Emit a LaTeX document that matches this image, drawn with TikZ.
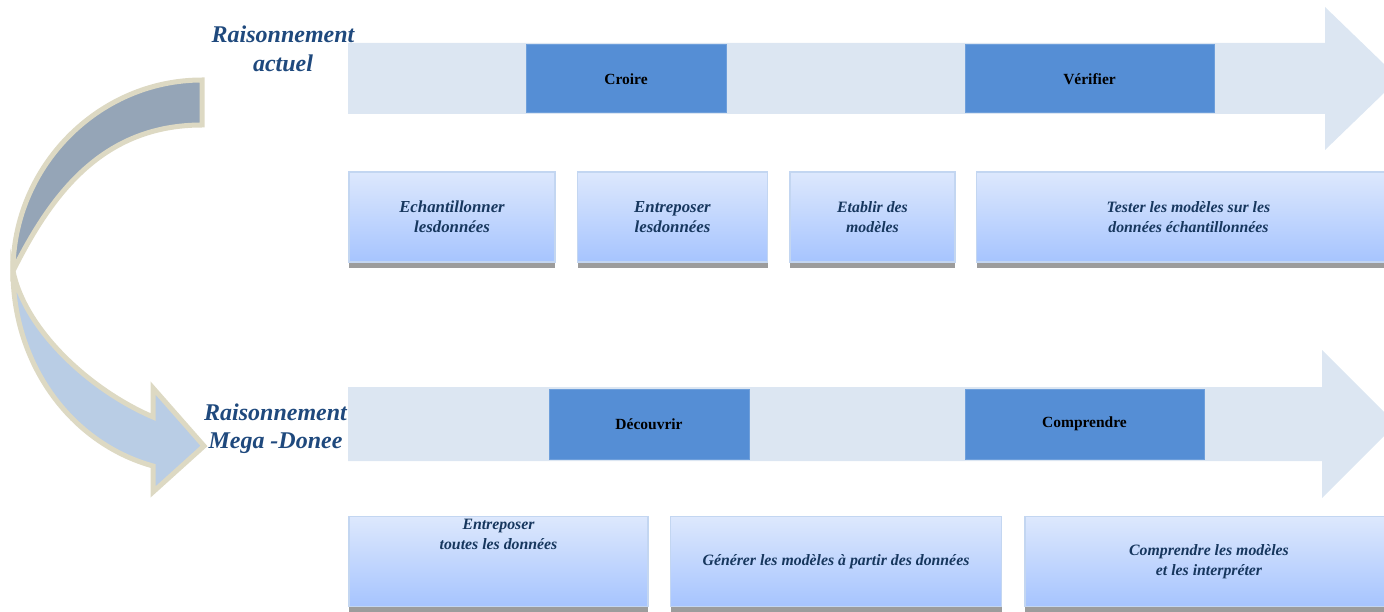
\documentclass[tikz,border=0pt]{standalone}
\usepackage{fontspec}
\setmainfont{Liberation Serif}
\usetikzlibrary{positioning, shadows}
\definecolor{shaftblue}{HTML}{DCE6F2}
\definecolor{phaseblue}{HTML}{558ED5}
\definecolor{titleblue}{HTML}{1F497D}
\definecolor{tasktext}{HTML}{17375E}
\definecolor{tasktop}{HTML}{DDE8FD}
\definecolor{taskbottom}{HTML}{A6C4FE}
\definecolor{taskrim}{HTML}{C3D6F1}
\definecolor{shadowgray}{HTML}{9C9C9C}
\definecolor{backband}{HTML}{95A5B7}
\definecolor{frontband}{HTML}{B9CDE5}
\definecolor{rimbeige}{HTML}{DDD9C3}
\tikzset{
        every node/.style={inner sep=0pt},
        timeline/.style={fill=shaftblue}, % the two long arrows
        phase/.style={fill=phaseblue, draw=phaseblue!85!white, line width=1pt,
                minimum height=68pt, font=\fontsize{15.5}{18}\selectfont\bfseries},
        task/.style={draw=taskrim, line width=1.5pt, top color=tasktop, bottom color=taskbottom,
                minimum height=90pt, align=center, text=tasktext,
                font=\fontsize{15.8}{19.5}\selectfont\bfseries\itshape,
                general shadow={fill=shadowgray, shadow xshift=0pt, shadow yshift=-6pt}},
        bigtask/.style={task, font=\fontsize{16.8}{19.5}\selectfont\bfseries\itshape},
        title/.style={text=titleblue, align=center, font=\fontsize{24}{28.4}\selectfont\bfseries\itshape},
        rim/.style={draw=rimbeige, line width=5pt, line join=miter},
}
\def\backpart{(202,80) .. controls (98,80) and (13,167) .. (13,271)
        .. controls (51,195) and (102,125) .. (202,125) -- cycle}
\def\frontpart{(13,271) .. controls (13,363) and (70,443) .. (153,466) -- (153,492)
        -- (204,446) -- (153,388) -- (153,417) .. controls (90,390) and (25,330) .. (13,271) -- cycle}

\begin{document}
\begin{tikzpicture}[x=1pt, y=-1pt]
    \useasboundingbox (0,0) rectangle (1384,612);
    \clip (0,0) rectangle (1384,612);
    % long arrows
    \fill[timeline] (348,43) -- (1325,43) -- (1325,7) -- (1399,78.5) -- (1325,150) -- (1325,114) -- (348,114) -- cycle;
    \fill[timeline] (348,387) -- (1322,387) -- (1322,350) -- (1396,424) -- (1322,498) -- (1322,461) -- (348,461) -- cycle;
    % curved arrow
    \filldraw[rim, fill=frontband] \frontpart;
    \filldraw[rim, fill=backband] \backpart;

    \node[title] (actuel) at (283,49) {Raisonnement\\actuel};
    \node[title] (megadonee) at (275.5,428.5) {Raisonnement\\Mega -Donee};

    \node[phase, minimum width=200pt] (croire) at (626,79) {Croire};
    \node[phase, minimum width=249pt] (verifier) at (1089.5,79) {Vérifier};
    \node[phase, minimum width=200pt, minimum height=70pt] (decouvrir) at (649,424) {Découvrir};
    \node[phase, minimum width=239pt, minimum height=70pt] (comprendre) at (1084.5,424) {Comprendre};

    \node[bigtask, minimum width=206pt] (echant) at (452,217) {Echantillonner\\lesdonnées};
    \node[bigtask, minimum width=190pt, right=21pt of echant] (entrepose) {Entreposer\\lesdonnées};
    \node[task, minimum width=165pt, right=21pt of entrepose] (etablir) {Etablir des\\modèles};
    \node[task, minimum width=424pt, right=20pt of etablir] (tester) {Tester les modèles sur les\\données échantillonnées};

    \node[task, minimum width=299pt] (touteslesdonnees) at (498.5,561.5) {Entreposer\\toutes les données\\[35pt]\mbox{}};
    \node[task, minimum width=331pt, right=21pt of touteslesdonnees] (generer) {Générer les modèles à partir des données};
    \node[task, minimum width=368pt, right=22pt of generer] (interpreter) {Comprendre les modèles\\et les interpréter};
\end{tikzpicture}
\end{document}
